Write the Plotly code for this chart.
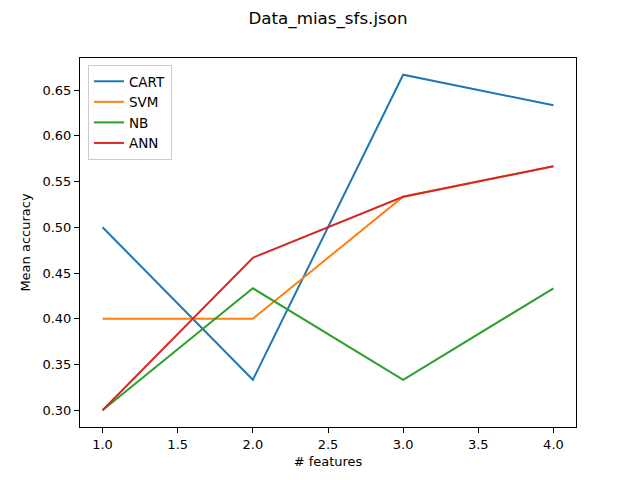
import plotly.graph_objects as go

features = [1, 2, 3, 4]
cart = [0.5, 0.3333, 0.6667, 0.6333]
svm = [0.4, 0.4, 0.5333, 0.5667]
nb = [0.3, 0.4333, 0.3333, 0.4333]
ann = [0.3, 0.4667, 0.5333, 0.5667]

series = [("CART", cart, "#1f77b4"), ("SVM", svm, "#ff7f0e"),
          ("NB", nb, "#2ca02c"), ("ANN", ann, "#d62728")]

fig = go.Figure()
for name, vals, color in series:
    fig.add_trace(go.Scatter(x=features, y=vals, mode="lines", name=name,
                             line=dict(color=color, width=2)))

axis_common = dict(showline=True, linecolor="black", linewidth=1, mirror=True,
                   ticks="outside", ticklen=5, tickcolor="black", showgrid=False,
                   zeroline=False, tickfont=dict(size=13, color="black"))

fig.update_layout(
    width=640, height=480,
    margin=dict(l=72, r=72, t=50, b=61),
    paper_bgcolor="white", plot_bgcolor="white",
    font=dict(family="DejaVu Sans", color="black", size=13),
    title=dict(text="Data_mias_sfs.json", x=0.5, xanchor="center",
               y=1 - 10 / 480, yanchor="middle", font=dict(size=16.7)),
    xaxis=dict(range=[0.85, 4.15], tickvals=[1, 1.5, 2, 2.5, 3, 3.5, 4],
               ticktext=["1.0", "1.5", "2.0", "2.5", "3.0", "3.5", "4.0"],
               title=dict(text="# features", standoff=6, font=dict(size=13)),
               **axis_common),
    yaxis=dict(range=[0.2817, 0.685], tickvals=[0.30, 0.35, 0.40, 0.45, 0.50, 0.55, 0.60, 0.65],
               ticktext=["0.30", "0.35", "0.40", "0.45", "0.50", "0.55", "0.60", "0.65"],
               title=dict(text="Mean accuracy", standoff=8, font=dict(size=13)),
               **axis_common),
    legend=dict(x=0.016, y=0.981, xanchor="left", yanchor="top",
                bgcolor="rgba(255,255,255,0.8)", bordercolor="#cccccc", borderwidth=1,
                font=dict(size=13.5), tracegroupgap=0, itemwidth=30),
    showlegend=True,
)

fig.write_html("out.html")
